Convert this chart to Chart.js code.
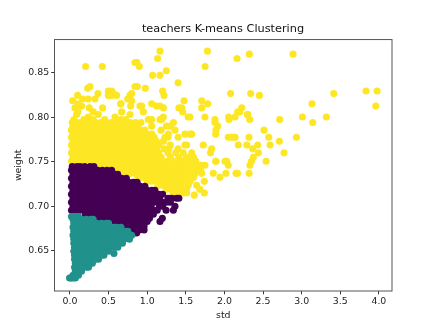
<!DOCTYPE html>
<html><head><meta charset="utf-8">
<style>html,body{margin:0;padding:0;background:#fff}canvas{display:block}</style>
<script src="https://cdn.jsdelivr.net/npm/chart.js@4"></script>
</head><body><canvas id="c" width="436" height="327"></canvas>
<script>
const chartTitle = "teachers K-means Clustering";
const xLabel = "std";
const yLabel = "weight";
const xTickValues = [0, 0.5, 1, 1.5, 2, 2.5, 3, 3.5, 4];
const yTickValues = [0.65, 0.7, 0.75, 0.8, 0.85];

// each row: [weight, [std, std, ...]]
const yellowRows = [
[0.8742,[1.166,1.78]],[0.8708,[2.323,2.889]],[0.866,[1.135,2.163]],[0.8615,[0.842,0.868]],
[0.857,[0.203,0.419,0.898,1.75]],[0.8522,[1.248]],[0.847,[1.07,1.166]],[0.8386,[1.40]],
[0.8345,[0.259,0.842,0.872]],[0.8324,[0.976,0.229]],[0.8294,[0.497,0.54,1.2,3.977,3.834]],
[0.8265,[0.363,0.561,0.799,2.08,2.34,3.416]],[0.8245,[0.099,0.497,0.54,0.604,1.218,2.453,0.777]],
[0.8205,[0.237,0.324,0.164,0.747]],[0.8185,[0.034,0.799,1.477,1.706]],
[0.815,[0.108,0.66,0.656,1.058,1.783,3.134]],[0.8125,[0.151,0.786,0.906,0.928,1.122,1.166,3.96]],
[0.8105,[0.065,0.25,0.423,1.21,1.411,1.446,1.706,2.224]],
[0.806,[0.10,0.30,0.669,0.95,1.46,2.172,2.197]],
[0.803,[0.086,0.367,0.777,2.301,2.297]],
[0.8003,[0.237,0.583,1.209,1.53,1.554,1.748,2.055,2.138,3.01,3.32]],
[0.7975,[0.05,0.18,0.30,0.45,0.66,0.72,1.0135,1.058,1.166,1.187,2.06,2.328,2.716,1.878]],
[0.794,[0.03,0.09,0.14,0.22,0.27,0.33,0.4,0.47,0.53,0.58,0.64,0.7,0.78,0.85,0.92,1.34,1.878,3.143]],
[0.79,[0.04,0.1,0.16,0.22,0.28,0.34,0.4,0.46,0.52,0.58,0.64,0.7,0.76,0.82,0.88,1.058,1.25,1.3,1.913]],
[0.7855,[0.02,0.07,0.13,0.19,0.25,0.31,0.37,0.43,0.49,0.55,0.61,0.67,0.73,0.79,0.85,0.91,0.97,1.18,1.36,1.891,2.513]],
[0.781,[0.04,0.1,0.16,0.22,0.28,0.34,0.4,0.46,0.52,0.58,0.64,0.7,0.76,0.82,0.88,0.94,1.0,1.06,1.274,1.49,1.576,1.554,1.887]],
[0.7775,[0.02,0.07,0.13,0.19,0.25,0.31,0.37,0.43,0.49,0.55,0.61,0.67,0.73,0.79,0.85,0.91,0.97,1.03,1.09,1.23,1.27,1.4,2.05,2.094,2.124,2.138,2.318,2.574,2.932]],
[0.773,[0.04,0.1,0.16,0.22,0.28,0.34,0.4,0.46,0.52,0.58,0.64,0.7,0.76,0.82,0.88,0.94,1.0,1.06,1.12,1.21,2.712]],
[0.7688,[0.02,0.07,0.13,0.19,0.25,0.31,0.37,0.43,0.49,0.55,0.61,0.67,0.73,0.79,0.85,0.91,0.97,1.03,1.09,1.15,1.3,1.49,1.511,1.727,2.18,2.29,2.431,2.591]],
[0.7645,[0.04,0.1,0.16,0.22,0.28,0.34,0.4,0.46,0.52,0.58,0.64,0.7,0.76,0.82,0.88,0.94,1.0,1.06,1.12,1.22,1.28,1.4,1.835,2.366]],
[0.76,[0.02,0.07,0.13,0.19,0.25,0.31,0.37,0.43,0.49,0.55,0.61,0.67,0.73,0.79,0.85,0.91,0.97,1.03,1.09,1.15,1.27,1.37,1.467,1.576,1.82,2.772,2.44]],
[0.755,[0.04,0.1,0.16,0.22,0.28,0.34,0.4,0.46,0.52,0.58,0.64,0.7,0.76,0.82,0.88,0.94,1.0,1.06,1.12,1.18,1.3,1.41,1.51,1.6,2.374]],
[0.7505,[0.02,0.07,0.13,0.19,0.25,0.31,0.37,0.43,0.49,0.55,0.61,0.67,0.73,0.79,0.85,0.91,0.97,1.03,1.09,1.15,1.21,1.27,1.33,1.39,1.47,1.55,1.63,1.887,1.891,2.008,2.03,2.35,2.54]],
[0.746,[0.34,0.4,0.46,0.52,0.58,0.64,0.7,0.76,0.82,0.88,0.94,1.0,1.06,1.12,1.18,1.24,1.31,1.40,1.45,1.52,1.61,1.70,1.748,2.05,2.33]],
[0.7415,[0.58,0.64,0.7,0.76,0.82,0.88,0.94,1.0,1.06,1.12,1.18,1.24,1.30,1.36,1.42,1.49,1.56,1.65,1.69]],
[0.737,[0.72,0.78,0.84,0.9,0.96,1.02,1.08,1.14,1.2,1.26,1.33,1.39,1.45,1.54,1.62,1.705,1.856,2.02,2.15,2.17,2.32]],
[0.7325,[0.88,0.94,1.0,1.06,1.12,1.18,1.24,1.29,1.34,1.41,1.47,1.52,1.6,1.943]],
[0.728,[1.0,1.06,1.12,1.18,1.24,1.29,1.35,1.39,1.468,1.554,1.74]],
[0.7235,[1.14,1.2,1.26,1.33,1.38,1.44,1.532,1.64]],
[0.719,[1.25,1.32,1.37,1.425,1.51,1.683]],
[0.715,[1.33,1.36,1.42,1.468,1.511,1.74]],
[0.7125,[1.61]]
];

const purpleRows = [
[0.7445,[0.03,0.09,0.13,0.19,0.26,0.31]],
[0.7405,[0.02,0.07,0.12,0.18,0.24,0.3,0.36,0.42,0.48,0.54]],
[0.736,[0.04,0.1,0.16,0.22,0.28,0.34,0.4,0.46,0.52,0.58,0.62]],
[0.7315,[0.02,0.07,0.13,0.19,0.25,0.31,0.37,0.43,0.49,0.55,0.61,0.67,0.73]],
[0.727,[0.04,0.1,0.16,0.22,0.28,0.34,0.4,0.46,0.52,0.58,0.64,0.7,0.76,0.82,0.87]],
[0.7225,[0.02,0.07,0.13,0.19,0.25,0.31,0.37,0.43,0.49,0.55,0.61,0.67,0.73,0.79,0.85,0.91,0.97]],
[0.718,[0.04,0.1,0.16,0.22,0.28,0.34,0.4,0.46,0.52,0.58,0.64,0.7,0.76,0.82,0.88,0.94,1.0,1.06,1.1]],
[0.7135,[0.02,0.07,0.13,0.19,0.25,0.31,0.37,0.43,0.49,0.55,0.61,0.67,0.73,0.79,0.85,0.91,0.97,1.03,1.09,1.15,1.2]],
[0.709,[0.04,0.1,0.16,0.22,0.28,0.34,0.4,0.46,0.52,0.58,0.64,0.7,0.76,0.82,0.88,0.94,1.0,1.06,1.12,1.16,1.27,1.32,1.38,1.41]],
[0.7045,[0.02,0.07,0.13,0.19,0.25,0.31,0.37,0.43,0.49,0.55,0.61,0.67,0.73,0.79,0.85,0.91,0.97,1.03,1.09,1.14,1.2,1.25,1.3]],
[0.7,[0.04,0.1,0.16,0.22,0.28,0.34,0.4,0.46,0.52,0.58,0.64,0.7,0.76,0.82,0.88,0.94,1.0,1.05,1.16,1.2,1.36]],
[0.6955,[0.02,0.07,0.13,0.19,0.25,0.31,0.37,0.43,0.49,0.55,0.61,0.67,0.73,0.79,0.85,0.91,0.97,1.03,1.08,1.13,1.245,1.339]],
[0.691,[0.2,0.26,0.32,0.38,0.44,0.5,0.56,0.62,0.68,0.74,0.8,0.86,0.92,0.98,1.03,1.08]],
[0.6865,[0.38,0.44,0.5,0.56,0.62,0.68,0.74,0.8,0.86,0.92,0.97,1.03,1.196]],
[0.683,[0.58,0.64,0.7,0.76,0.82,0.88,0.94,1.0,1.166]],
[0.678,[0.72,0.78,0.84,0.9,0.96]],
[0.6735,[0.8,0.85,0.9,0.96]],
[0.67,[0.863]]
];

const tealRows = [
[0.6885,[0.02,0.065,0.11]],
[0.6855,[0.04,0.09,0.15,0.21,0.27,0.3]],
[0.681,[0.05,0.11,0.17,0.23,0.29,0.35,0.41,0.47,0.5]],
[0.6765,[0.04,0.09,0.15,0.21,0.27,0.33,0.39,0.45,0.51,0.57,0.6,0.66]],
[0.672,[0.05,0.11,0.17,0.23,0.29,0.35,0.41,0.47,0.53,0.59,0.65,0.71,0.75]],
[0.6675,[0.04,0.09,0.15,0.21,0.27,0.33,0.39,0.45,0.51,0.57,0.63,0.69,0.75,0.8]],
[0.663,[0.05,0.11,0.17,0.23,0.29,0.35,0.41,0.47,0.53,0.59,0.65,0.7,0.77]],
[0.6585,[0.05,0.09,0.15,0.21,0.27,0.33,0.39,0.45,0.51,0.57,0.63,0.68]],
[0.654,[0.06,0.11,0.17,0.23,0.29,0.35,0.41,0.47,0.53,0.58,0.62]],
[0.6495,[0.05,0.09,0.15,0.21,0.27,0.33,0.39,0.45,0.5]],
[0.647,[0.57]],
[0.645,[0.06,0.11,0.17,0.23,0.29,0.35,0.41,0.44]],
[0.6405,[0.06,0.09,0.15,0.21,0.27,0.33,0.37]],
[0.636,[0.07,0.11,0.17,0.23,0.29]],
[0.6315,[0.06,0.09,0.15,0.21,0.24]],
[0.627,[0.07,0.11,0.15]],
[0.6225,[0.04,0.07,0.11]],
[0.6195,[-0.005,0.01,0.04,0.07]]
];

function toPoints(rows){
  const out = [];
  rows.forEach(r => r[1].forEach(x => out.push({x: x, y: r[0]})));
  return out;
}
const frame = {
  id: "frame",
  afterDraw(ch){
    const a = ch.chartArea, g = ch.ctx;
    g.save(); g.strokeStyle = "#555"; g.lineWidth = 1;
    g.strokeRect(a.left, a.top, a.right - a.left, a.bottom - a.top);
    g.restore();
  }
};
const tickFont = {family: "DejaVu Sans", size: 9.4};
const textColor = "#222";
new Chart(document.getElementById("c"), {
  type: "scatter",
  plugins: [frame],
  data: {datasets: [
    {label:"c3", data: toPoints(tealRows), backgroundColor:"#21918c", order:1},
    {label:"c2", data: toPoints(purpleRows), backgroundColor:"#440154", order:2},
    {label:"c1", data: toPoints(yellowRows), backgroundColor:"#fde725", order:3}
  ]},
  options: {
    responsive: false, animation: false,
    layout: {padding: {left: 13, right: 3, top: 0, bottom: 6}},
    elements: {point: {radius: 3.55, borderWidth: 0, hoverRadius: 3.55}},
    plugins: {
      legend: {display: false}, tooltip: {enabled: false},
      title: {display: true, text: chartTitle, color: "#111",
        font: {family: "DejaVu Sans", size: 11.3, weight: "normal"},
        padding: {top: 22, bottom: 4}}
    },
    scales: {
      x: {type: "linear", min: -0.2, max: 4.17,
        afterBuildTicks(s){ s.ticks = xTickValues.map(v => ({value: v})); },
        afterFit(s){ s.height = 30; },
        grid: {drawOnChartArea: false, drawTicks: true, tickLength: 3.3, tickColor: "#000", tickWidth: 0.8},
        border: {display: false},
        ticks: {color: textColor, font: tickFont, padding: 2, maxRotation: 0, autoSkip: false,
          callback: v => Number(v).toFixed(1)},
        title: {display: true, text: xLabel, color: textColor, font: tickFont, padding: {top: 3, bottom: 0}}
      },
      y: {type: "linear", min: 0.6049, max: 0.8872,
        afterBuildTicks(s){ s.ticks = yTickValues.map(v => ({value: v})); },
        afterFit(s){ s.width = 41.5; },
        grid: {drawOnChartArea: false, drawTicks: true, tickLength: 3.3, tickColor: "#000", tickWidth: 0.8},
        border: {display: false},
        ticks: {color: textColor, font: tickFont, padding: 2, autoSkip: false,
          callback: v => Number(v).toFixed(2)},
        title: {display: true, text: yLabel, color: textColor, font: tickFont, padding: {top: 0, bottom: 3}}
      },
      rightSpacer: {type: "linear", axis: "y", position: "right", min: 0, max: 1,
        afterFit(s){ s.width = 41; },
        grid: {display: false}, border: {display: false},
        ticks: {display: false}, title: {display: false}
      }
    }
  }
});
</script></body></html>
